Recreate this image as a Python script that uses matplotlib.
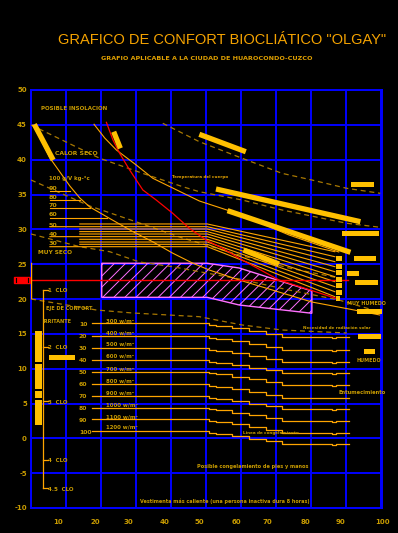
import matplotlib
matplotlib.use('Agg')
import matplotlib.pyplot as plt
from matplotlib.patches import Polygon, Rectangle

BLUE = '#0000FF'; ORANGE = '#FFA500'; GOLD = '#C89B00'; DASH = '#A87800'
YEL = '#FFC000'; RED = '#FF0000'; PINK = '#FF70FF'; TITLEC = '#F5A300'

plt.rcParams['hatch.linewidth'] = 0.7

# ---------------- data ----------------
x_tick_pos = [7.7, 18.5, 27.9, 38.2, 48.1, 58.7, 67.7, 78.6, 88.6, 100.4]
x_tick_labels = ['10', '20', '30', '40', '50', '60', '70', '80', '90', '100']
y_ticks = [50, 45, 40, 35, 30, 25, 20, 15, 10, 5, 0, -5, -10]
grid_x = [0, 10, 20, 30, 40, 50, 60, 70, 80, 90, 100]
grid_y = [50, 45, 40, 35, 30, 25, 20, 15, 10, 5, 0, -5, -10]

curve_a_x = [0.57, 3.13, 5.41, 8.26, 11.11, 13.96, 16.81, 22.51, 29.06, 34.76, 40.46, 46.15, 51.0, 59.54, 80.34, 90.88, 99.72]
curve_a_y = [44.98, 42.54, 40.24, 38.23, 36.22, 34.50, 33.21, 31.56, 29.69, 28.23, 26.60, 25.17, 24.16, 22.73, 19.57, 18.57, 17.71]
curve_b_x = [18.03, 21.08, 24.42, 30.11, 34.84, 40.54, 48.15, 59.54, 73.79, 88.03]
curve_b_y = [45.08, 43.11, 41.39, 39.23, 37.33, 35.93, 34.07, 32.20, 29.19, 26.75]
red_x = [21.57, 23.45, 25.36, 28.21, 31.99, 35.81, 40.54, 45.30, 50.06, 54.79, 59.54, 70.94, 87.18]
red_y = [45.36, 42.82, 40.91, 38.52, 35.65, 34.21, 32.30, 30.15, 28.47, 27.28, 25.84, 22.73, 20.10]

d1_x = [37.69, 48.15, 60.40, 71.79, 80.34, 90.31, 99.91]
d1_y = [45.22, 42.58, 40.20, 38.04, 37.08, 35.89, 35.17]
d2_x = [0.0, 19.66, 31.91, 43.39, 48.15, 60.40, 71.79, 90.31, 99.91]
d2_y = [44.98, 40.20, 38.04, 36.12, 35.40, 34.21, 32.78, 30.87, 30.29]
d3_x = [0.0, 16.81, 31.05, 43.30, 48.15, 59.54, 73.79, 88.03]
d3_y = [37.08, 33.35, 30.91, 28.76, 28.04, 26.32, 24.45, 23.02]
d4_x = [0.0, 13.96, 22.51, 31.05, 40.46, 48.15, 59.54, 73.79, 88.03, 99.72]
d4_y = [29.33, 27.51, 26.79, 25.31, 24.64, 23.92, 22.87, 21.29, 19.86, 18.14]
d5_x = [0.0, 18.72, 29.06, 48.15, 60.40, 71.79, 90.31]
d5_y = [20.0, 18.42, 17.99, 17.46, 16.27, 15.55, 15.12]

# humidity labels / short lines
hum_labels = ['90', '80', '70', '60', '50', '40', '30']
hum_label_y = [35.9, 34.55, 33.4, 32.15, 30.6, 29.3, 28.0]
hum_short_end = [11.1, 13.96, 16.81, 21.65]
hum_short_y = [35.55, 34.21, 33.02, 31.58]

# wind / fan lines
fan_start_y = [30.77, 30.38, 30.05, 29.67, 29.33, 28.95, 28.57, 28.18, 27.85, 27.51]
fan_end_y = [26.79, 26.07, 25.36, 24.64, 23.92, 23.20, 22.49, 21.77, 21.05, 20.34]
fan_long = [False, True, False, False, False, True, False, False, False, True]

# radiation step lines
rad_labels = ['10', '20', '30', '40', '50', '60', '70', '80', '90', '100']
rad_label_y = [16.27, 14.6, 12.87, 11.15, 9.43, 7.7, 5.98, 4.26, 2.54, 0.82]
rad_base_y = [16.51, 14.64, 12.92, 11.25, 9.57, 7.77, 6.09, 4.41, 2.74, 1.06]
rad_w_labels = ['300 w/m²', '400 w/m²', '500 w/m²', '600 w/m²', '700 w/m²', '800 w/m²',
                '900 w/m²', '1000 w/m²', '1100 w/m²', '1200 w/m²']
rad_w_y = [16.85, 15.17, 13.5, 11.82, 10.0, 8.28, 6.56, 4.83, 3.11, 1.6]
step_x = [17.38, 51.0, 53.0, 57.5, 62.4, 67.2, 71.8, 76.6, 86.0, 87.2, 90.9]
step_drop = [0, 0.24, 0.39, 0.72, 1.1, 1.48, 1.91, 1.91, 2.05, 1.91, 1.91]

# comfort zone
comfort_x = [20.23, 50.43, 59.54, 80.34, 80.34, 59.54, 50.43, 20.23]
comfort_y = [25.13, 25.13, 24.45, 21.15, 17.95, 19.14, 20.24, 20.24]
comfort_axis_y = 22.73
comfort_axis_x_end = 90.6

# thick yellow bars (x0, y0, x1, y1)
bars_x0 = [0.94, 23.65, 48.15, 52.91, 56.21, 60.77]
bars_y0 = [45.08, 44.01, 43.64, 35.79, 32.68, 27.03]
bars_x1 = [6.35, 25.56, 61.45, 94.22, 91.37, 70.94]
bars_y1 = [39.95, 41.63, 41.14, 31.10, 26.70, 25.02]

# yellow rectangles (x0, x1, y0, y1)
rect_x0 = [91.54, 88.97, 92.31, 90.40, 92.59, 93.25, 93.53, 95.16,
           87.18, 87.18, 87.18, 87.18, 87.18, 87.18, 87.18,
           1.14, 1.14, 1.14, 1.14, 5.13]
rect_x1 = [98.01, 99.43, 98.77, 93.73, 99.23, 100.37, 100.0, 98.49,
           89.09, 89.09, 89.09, 89.09, 89.09, 89.09, 88.32,
           3.13, 3.13, 3.13, 3.13, 12.54]
rect_y0 = [36.12, 29.09, 25.45, 23.30, 22.01, 17.85, 14.26, 12.15,
           25.50, 24.35, 23.49, 22.45, 21.63, 20.62, 19.76,
           10.96, 7.08, 5.79, 1.92, 11.25]
rect_y1 = [36.75, 29.80, 26.17, 24.02, 22.73, 18.57, 14.98, 12.82,
           26.17, 25.02, 24.16, 23.12, 22.30, 21.29, 20.43,
           15.41, 10.67, 6.80, 5.50, 11.96]

# CLO bracket
clo_labels = ['1  CLO', '2  CLO', '3  CLO', '4  CLO', '4.5  CLO']
clo_y = [21.3, 13.1, 5.3, -3.1, -7.2]
clo_x = 3.5

# ---------------- figure ----------------
fig = plt.figure(figsize=(3.98, 5.33), dpi=100, facecolor='black')
ax = fig.add_axes([31/398, 25/533, 351/398, 418/533])
ax.set_facecolor('black')
ax.set_xlim(0, 100)
ax.set_ylim(-10, 50)
for s in ax.spines.values():
    s.set_color(BLUE); s.set_linewidth(1.4)

for gx in grid_x:
    ax.axvline(gx, color=BLUE, lw=1.4, zorder=1)
for gy in grid_y:
    ax.axhline(gy, color=BLUE, lw=1.4, zorder=1)

ax.set_xticks(x_tick_pos)
ax.set_xticklabels(x_tick_labels)
ax.set_yticks(y_ticks)
ax.set_yticklabels([str(v) for v in y_ticks])
ax.tick_params(length=0, colors=GOLD, labelsize=5)
ax.tick_params(axis='x', pad=8)
ax.tick_params(axis='y', pad=3)
for lab in ax.get_xticklabels() + ax.get_yticklabels():
    lab.set_fontweight('bold')

# titles
fig.text(0.558, 0.925, 'GRAFICO DE CONFORT BIOCLIÁTICO "OLGAY"', color=TITLEC,
         fontsize=10.5, ha='center', va='center', family='Liberation Sans')
fig.text(0.519, 0.890, 'GRAFIO APLICABLE A LA CIUDAD DE HUAROCONDO-CUZCO', color='#E0A000',
         fontsize=4.6, ha='center', va='center', fontweight='bold')

# comfort zone
ax.add_patch(Polygon(list(zip(comfort_x, comfort_y)), closed=True, facecolor='none',
                     edgecolor=PINK, hatch='///', lw=1.0, zorder=3))

# dashed lines
for xs, ys in [(d1_x, d1_y), (d2_x, d2_y), (d3_x, d3_y), (d4_x, d4_y), (d5_x, d5_y)]:
    ax.plot(xs, ys, color=DASH, lw=0.9, ls=(0, (4, 3)), zorder=4)

# orange curves
ax.plot(curve_a_x, curve_a_y, color=ORANGE, lw=0.8, zorder=5)
ax.plot(curve_b_x, curve_b_y, color=ORANGE, lw=0.8, zorder=5)
ax.plot(red_x, red_y, color=RED, lw=0.9, zorder=6)

# humidity short lines + labels
for xe, yv in zip(hum_short_end, hum_short_y):
    ax.plot([5.41, xe], [yv, yv], color=ORANGE, lw=0.8, zorder=5)
for lab, yv in zip(hum_labels, hum_label_y):
    ax.text(5.1, yv, lab, color=GOLD, fontsize=4.6, fontweight='bold', va='center', ha='left')

# fan lines
for ys, ye, lg in zip(fan_start_y, fan_end_y, fan_long):
    ax.plot([5.41 if lg else 13.96, 50.43, 86.9], [ys, ys, ye], color=ORANGE, lw=0.8, zorder=5)

# radiation step lines
for by in rad_base_y:
    ax.plot(step_x, [by - d for d in step_drop], color=ORANGE, lw=0.9, drawstyle='steps-post', zorder=5)
for lab, yv in zip(rad_labels, rad_label_y):
    ax.text(13.7, yv, lab, color=GOLD, fontsize=4.4, fontweight='bold', va='center', ha='left')
for lab, yv in zip(rad_w_labels, rad_w_y):
    ax.text(21.4, yv, lab, color=GOLD, fontsize=3.9, fontweight='bold', va='center', ha='left')

# red comfort axis line and marker
ax.plot([0, comfort_axis_x_end], [comfort_axis_y, comfort_axis_y], color=RED, lw=1.0, zorder=6)
ax.add_patch(Rectangle((-4.84, 22.25), 4.56, 0.87, facecolor=RED, edgecolor=RED, clip_on=False, zorder=6))
ax.plot([-4.36, -4.36], [22.4, 22.97], color='black', lw=0.8, clip_on=False, zorder=7)
ax.plot([-0.85, -0.85], [22.4, 22.97], color='black', lw=0.8, clip_on=False, zorder=7)
ax.plot([0, 0], [20.1, 25.2], color=ORANGE, lw=1.0, zorder=6)

# thick bars
for x0, y0, x1, y1 in zip(bars_x0, bars_y0, bars_x1, bars_y1):
    ax.plot([x0, x1], [y0, y1], color=YEL, lw=3.8, solid_capstyle='butt', zorder=7)
for x0, x1, y0, y1 in zip(rect_x0, rect_x1, rect_y0, rect_y1):
    ax.add_patch(Rectangle((x0, y0), x1 - x0, y1 - y0, facecolor=YEL, edgecolor='none',
                           clip_on=False, zorder=7))

# CLO bracket
ax.plot([clo_x, clo_x], [clo_y[0], clo_y[-1]], color=ORANGE, lw=0.9, zorder=5)
for lab, yv in zip(clo_labels, clo_y):
    ax.plot([clo_x, clo_x + 1.4], [yv, yv], color=ORANGE, lw=0.9, zorder=5)
    ax.text(clo_x + 1.5, yv - 0.1, lab, color=GOLD, fontsize=4.0, fontweight='bold', va='center', ha='left')

# annotations
labels = [
    ('POSIBLE INSOLACION', 2.9, 47.3, 4.0, GOLD),
    ('CALOR SECO', 6.8, 40.9, 4.4, GOLD),
    ('100 g/V kg-°c', 5.1, 37.3, 3.9, GOLD),
    ('MUY SECO', 2.1, 26.65, 4.2, GOLD),
    ('Temperatura del cuerpo', 40.4, 37.47, 3.0, '#E0A000'),
    ('EJE DE CONFORT', 4.2, 18.7, 3.6, GOLD),
    ('IRRITANTE', 3.4, 16.8, 3.5, GOLD),
    ('MUY HUMEDO', 90.4, 19.4, 3.5, GOLD),
    ('Necesidad de radiación solar', 77.8, 15.8, 3.0, GOLD),
    ('HUMEDO', 93.2, 11.15, 3.5, GOLD),
    ('Entumecimiento', 88.0, 6.55, 3.7, GOLD),
    ('Linea de congelamiento', 60.5, 0.75, 3.0, GOLD),
]
for t, x, y, fs, c in labels:
    ax.text(x, y, t, color=c, fontsize=fs, fontweight='bold', va='center', ha='left', zorder=8)
ax.text(63.5, -4.07, 'Posible congelamiento de pies y manos', color=GOLD, fontsize=3.65,
        fontweight='bold', ha='center', va='center')
ax.text(55.3, -9.0, 'Vestimenta más caliente (una persona inactiva dura 8 horas)', color=GOLD,
        fontsize=3.55, fontweight='bold', ha='center', va='center')

fig.savefig('out.png', dpi=100, facecolor='black')
